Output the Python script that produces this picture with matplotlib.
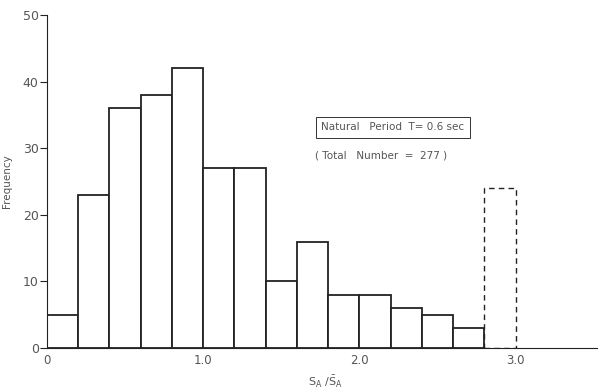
import numpy as np
from matplotlib import pyplot as plt

# bin edges of S_A / mean S_A, width 0.2
bin_left = [0.0, 0.2, 0.4, 0.6, 0.8, 1.0, 1.2, 1.4, 1.6, 1.8, 2.0, 2.2, 2.4, 2.6]
counts = [5, 23, 36, 38, 42, 27, 27, 10, 16, 8, 8, 6, 5, 3]
overflow_left = [2.8]
overflow_count = [24]
bin_width = 0.2

y_ticks = [0, 10, 20, 30, 40, 50]
y_labels = ['0', '10', '20', '30', '40', '50']
x_ticks = [0, 1.0, 2.0, 3.0]
x_labels = ['0', '1.0', '2.0', '3.0']

text_color = '#555555'
line_color = '#222222'

fig = plt.figure(figsize=(5.98, 3.88), dpi=100)
ax = fig.add_axes([0.0786, 0.103, 0.93, 0.858])

ax.bar(bin_left, counts, width=bin_width, align='edge',
       facecolor='white', edgecolor=line_color, linewidth=1.3)
ax.bar(overflow_left, overflow_count, width=bin_width, align='edge',
       facecolor='none', edgecolor=line_color, linewidth=1.0, linestyle=(0, (4, 3)))

ax.set_xlim(0, 3.56)
ax.set_ylim(0, 50)
ax.spines['top'].set_visible(False)
ax.spines['right'].set_visible(False)
ax.spines['left'].set_color(line_color)
ax.spines['bottom'].set_color(line_color)

ax.set_yticks(y_ticks)
ax.set_yticklabels(y_labels, fontsize=9, color=text_color)
ax.tick_params(axis='y', length=5, width=0.8, color=line_color, pad=1)
ax.set_xticks(x_ticks)
ax.set_xticklabels(x_labels, fontsize=8.5, color=text_color)
ax.tick_params(axis='x', length=0, pad=4)

ax.set_ylabel('Frequency', fontsize=7.5, color=text_color, labelpad=8)
ax.set_xlabel(r'S$_{\mathrm{A}}$ /$\bar{\mathrm{S}}_{\mathrm{A}}$', fontsize=8,
              color=text_color, labelpad=5)

ax.text(0.493, 0.663, 'Natural   Period  T= 0.6 sec', transform=ax.transAxes,
        fontsize=7.5, color=text_color, va='center', ha='left',
        bbox=dict(boxstyle='square,pad=0.5', facecolor='white',
                  edgecolor='#333333', linewidth=0.7))
ax.text(0.482, 0.578, '( Total   Number  =  277 )', transform=ax.transAxes,
        fontsize=7.5, color=text_color, va='center', ha='left')

fig.savefig('out.png', dpi=100)
